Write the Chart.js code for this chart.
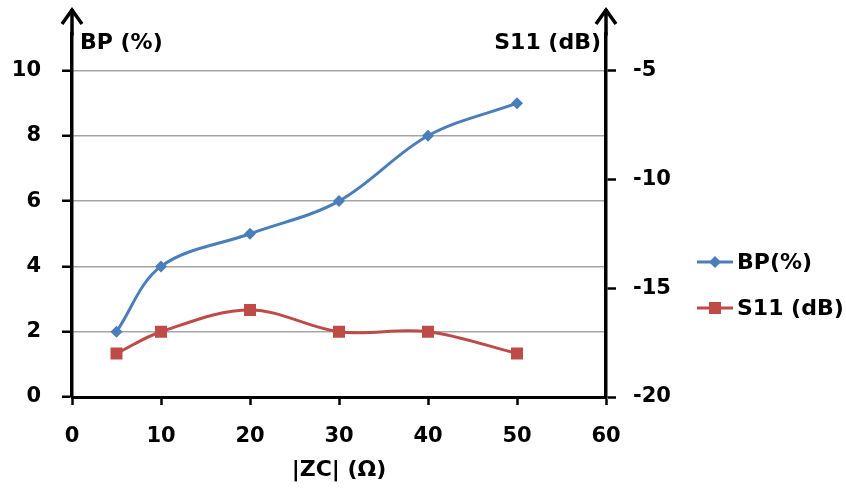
<!DOCTYPE html>
<html>
  <head>
    <title>BP and S11 vs |ZC|</title>
    <script src="https://cdn.jsdelivr.net/npm/chart.js"></script>
    <style>
      html, body { margin: 0; padding: 0; background: #fff; }
    </style>
  </head>
  <body>
    <canvas id="zc-chart" width="846" height="488"></canvas>

    <script>
      // Data
      const zcValues = [5, 10, 20, 30, 40, 50];
      const bpValues = [2, 4, 5, 6, 8, 9];
      const s11Values = [-18, -17, -16, -17, -17, -18];

      // Tick labels
      const xTicks = [0, 10, 20, 30, 40, 50, 60];
      const bpTicks = [0, 2, 4, 6, 8, 10];
      const s11Ticks = [-20, -15, -10, -5];

      const blue = '#4a7ebb';
      const red = '#be4b48';
      const fontFamily = '"DejaVu Sans", Verdana, sans-serif';

      const toPoints = (xs, ys) => xs.map((x, i) => ({ x: x, y: ys[i] }));
      const setTicks = (list) => (scale) => { scale.ticks = list.map(v => ({ value: v })); };

      // Arrow heads on the two vertical axes + the odd axis titles at the top
      const axisDecor = {
        id: 'axisDecor',
        afterDraw(chart) {
          const { ctx, chartArea } = chart;
          const tipY = 9;
          ctx.save();
          ctx.strokeStyle = '#000';
          ctx.lineWidth = 3.5;
          [chart.scales.y.right, chart.scales.y2.left].forEach(x => {
            ctx.beginPath();
            ctx.moveTo(x, chartArea.top + 2);
            ctx.lineTo(x, tipY);
            ctx.stroke();
            ctx.beginPath();
            ctx.moveTo(x - 10, tipY + 15);
            ctx.lineTo(x, tipY + 1);
            ctx.lineTo(x + 10, tipY + 15);
            ctx.stroke();
          });

          ctx.fillStyle = '#000';
          ctx.font = 'bold 22px ' + fontFamily;
          ctx.textBaseline = 'middle';
          ctx.textAlign = 'left';
          ctx.fillText('BP (%)', chartArea.left + 8, 43);
          ctx.textAlign = 'right';
          ctx.fillText('S11 (dB)', chartArea.right - 5, 43);
          ctx.restore();
        }
      };

      // Legend drawn by hand: line with the marker in its middle
      const sideLegend = {
        id: 'sideLegend',
        afterDraw(chart) {
          const { ctx, chartArea } = chart;
          const x0 = chartArea.right + 91;
          const rows = [262, 308];
          ctx.save();
          chart.data.datasets.forEach((ds, i) => {
            const y = rows[i];
            ctx.strokeStyle = ds.borderColor;
            ctx.lineWidth = 3;
            ctx.beginPath();
            ctx.moveTo(x0, y);
            ctx.lineTo(x0 + 36, y);
            ctx.stroke();
            ctx.fillStyle = ds.pointBackgroundColor;
            ctx.beginPath();
            if (ds.pointStyle === 'rectRot') {
              ctx.moveTo(x0 + 18, y - 6);
              ctx.lineTo(x0 + 24, y);
              ctx.lineTo(x0 + 18, y + 6);
              ctx.lineTo(x0 + 12, y);
              ctx.closePath();
            } else {
              ctx.rect(x0 + 12, y - 6, 12, 12);
            }
            ctx.fill();
            ctx.fillStyle = '#000';
            ctx.font = 'bold 22px ' + fontFamily;
            ctx.textAlign = 'left';
            ctx.textBaseline = 'middle';
            ctx.fillText(ds.label, x0 + 40, y + 1);
          });
          ctx.restore();
        }
      };

      const data = {
        datasets: [
          {
            label: 'BP(%)',
            data: toPoints(zcValues, bpValues),
            yAxisID: 'y',
            borderColor: blue,
            backgroundColor: blue,
            pointBackgroundColor: blue,
            pointBorderColor: blue,
            pointStyle: 'rectRot',
            pointRadius: 6,
            pointBorderWidth: 0,
            borderWidth: 3,
            tension: 0.35,
          },
          {
            label: 'S11 (dB)',
            data: toPoints(zcValues, s11Values),
            yAxisID: 'y2',
            borderColor: red,
            backgroundColor: red,
            pointBackgroundColor: red,
            pointBorderColor: red,
            pointStyle: 'rect',
            pointRadius: 8.5,
            pointBorderWidth: 0,
            borderWidth: 3,
            tension: 0.35,
          },
        ],
      };

      const tickFont = { family: fontFamily, size: 21, weight: 'bold' };

      const options = {
        responsive: false,
        animation: false,
        layout: { padding: { top: 5, left: 0, right: 0, bottom: 0 } },
        plugins: {
          legend: { display: false },
          tooltip: { enabled: false },
        },
        scales: {
          x: {
            type: 'linear',
            min: 0,
            max: 60,
            afterBuildTicks: setTicks(xTicks),
            afterFit: (scale) => { scale.height = 91; },
            ticks: { color: '#000', font: tickFont, padding: 19, maxRotation: 0 },
            grid: {
              drawOnChartArea: false,
              tickLength: 8,
              tickWidth: 2.5,
              tickColor: '#000',
            },
            border: { color: '#000', width: 3 },
            title: {
              display: true,
              text: '|ZC| (Ω)',
              color: '#000',
              font: { family: fontFamily, size: 22, weight: 'bold' },
              padding: { top: 6, bottom: 5 },
            },
          },
          y: {
            position: 'left',
            min: 0,
            max: 11.13,
            afterBuildTicks: setTicks(bpTicks),
            afterFit: (scale) => { scale.width = 72; },
            ticks: { color: '#000', font: tickFont, padding: 21 },
            grid: {
              color: (c) => (c.tick && c.tick.value === 0 ? 'rgba(0,0,0,0)' : '#a5a5a5'),
              lineWidth: 1.5,
              tickLength: 10,
              tickWidth: 2.5,
              tickColor: '#000',
            },
            border: { color: '#000', width: 3.5 },
          },
          y2: {
            position: 'right',
            min: -20,
            max: -3.3,
            afterBuildTicks: setTicks(s11Ticks),
            afterFit: (scale) => { scale.width = 240; },
            ticks: { color: '#000', font: tickFont, padding: 17 },
            grid: {
              drawOnChartArea: false,
              tickLength: 10,
              tickWidth: 2.5,
              tickColor: '#000',
            },
            border: { color: '#000', width: 3.5 },
          },
        },
      };

      const zcChart = new Chart(document.getElementById('zc-chart'), {
        type: 'line',
        data: data,
        options: options,
        plugins: [axisDecor, sideLegend],
      });
    </script>
  </body>
</html>
